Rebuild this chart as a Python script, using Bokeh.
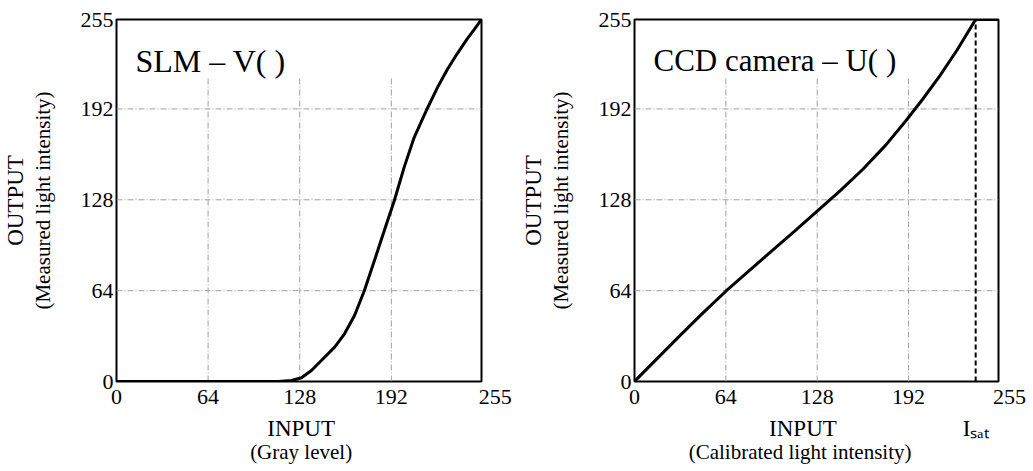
from bokeh.plotting import figure
from bokeh.models import Range1d, Label, FixedTicker, LinearAxis, Title
from bokeh.layouts import row
from bokeh.embed import file_html
from bokeh.resources import INLINE

# ---------------- data ----------------
tick_values = [0, 64, 128, 192, 255]
tick_labels = ["0", "64", "128", "192", "255"]
grid_values = [64, 128, 192]

slm_input = [0, 64, 100, 113, 122.3, 129.2, 136.2, 143.1, 152.4, 159.3, 166.3, 173.2,
             180.2, 187.1, 194.1, 201.0, 208.0, 217.2, 224.2, 231.2, 238.1, 245.0, 250.0, 255]
slm_output = [0, 0, 0, 0, 0.7, 2.6, 7.7, 14.8, 24.2, 33.6, 46.5, 64.1,
              85.2, 106.4, 127.5, 151.0, 172.0, 192.5, 207.0, 220.0, 231.0, 241.4, 248.0, 255]

ccd_input = [0, 16, 32, 48, 64, 80, 96, 112, 128, 144, 160, 176, 190, 202, 214, 226, 239, 255]
ccd_output = [0, 16.3, 32.5, 48.3, 63.6, 77.8, 91.8, 105.8, 120, 134.3, 149.5, 166.5, 183.5,
              199, 215.5, 233.5, 255, 255]

i_sat = 239

FONT = "Liberation Serif"
H = 471
TOP = 19
FRAME_H = 362
NB = "\u00a0"


def plain_axis(ticks, labels, size, standoff):
    return LinearAxis(ticker=FixedTicker(ticks=ticks),
                      major_label_overrides=dict(zip(ticks, labels)),
                      axis_line_color=None, major_tick_line_color=None,
                      minor_tick_line_color=None, major_tick_out=0, major_tick_in=0,
                      major_label_standoff=standoff, major_label_text_font=FONT,
                      major_label_text_font_size=size, major_label_text_color="black")


def make_panel(width, border_left, border_right, xs, ys, title, title_size, row_ticks,
               row_labels, sub_x, sub_tick, n_pad):
    p = figure(width=width, height=H, x_range=Range1d(0, 255), y_range=Range1d(0, 255),
               output_backend="svg", toolbar_location=None,
               min_border_left=border_left, min_border_right=border_right,
               min_border_top=TOP, min_border_bottom=H - TOP - FRAME_H)
    p.grid.visible = False
    p.background_fill_color = "white"
    p.border_fill_color = "white"
    p.outline_line_color = "black"
    p.outline_line_width = 2
    p.outline_line_alpha = 1.0
    for ax in (p.xaxis, p.yaxis):
        ax.ticker = FixedTicker(ticks=tick_values)
        ax.axis_line_color = None
        ax.major_tick_line_color = None
        ax.minor_tick_line_color = None
        ax.major_tick_out = 0
        ax.major_tick_in = 0
        ax.major_label_text_font = FONT
        ax.major_label_text_font_size = "22px"
        ax.major_label_text_color = "black"
    p.xaxis.major_label_standoff = 2
    p.yaxis.major_label_standoff = 3
    xo = {v: s for v, s in zip(tick_values, tick_labels)}
    xo[255] = NB * n_pad + "255"
    p.xaxis.major_label_overrides = xo

    # y: sub-label as the axis label, OUTPUT as a side title
    p.yaxis.axis_label = "(Measured light intensity)"
    p.yaxis.axis_label_standoff = 23
    p.yaxis.axis_label_text_font = FONT
    p.yaxis.axis_label_text_font_size = "21px"
    p.yaxis.axis_label_text_font_style = "normal"
    p.yaxis.axis_label_text_color = "black"
    p.add_layout(Title(text="OUTPUT", align="center", standoff=0,
                       text_font=FONT, text_font_size="23px", text_font_style="normal",
                       text_color="black"), "left")

    # rows below the tick labels: INPUT (and I_sat), then the sub-label
    p.add_layout(plain_axis(row_ticks, row_labels, "23px", 4), "below")
    p.add_layout(plain_axis([sub_tick], [sub_x], "21px", -4), "below")

    # grid (dash-dot)
    p.segment(x0=grid_values, y0=[0] * len(grid_values), x1=grid_values,
              y1=[214] * len(grid_values), line_color="#a0a0a0", line_width=1,
              line_dash="6 2 1 2")
    p.segment(x0=[0] * len(grid_values), y0=grid_values, x1=[255] * len(grid_values),
              y1=grid_values, line_color="#a0a0a0", line_width=1, line_dash="6 2 1 2")

    p.line(xs, ys, line_color="black", line_width=3, line_join="round")

    p.add_layout(Label(x=19, y=321, x_units="screen", y_units="screen", text=title,
                       text_font=FONT, text_font_size=title_size, text_color="black",
                       text_baseline="alphabetic", text_align="left"))
    return p


p1 = make_panel(514, 114, 33, slm_input, slm_output, "SLM \u2013 V( )", "32px",
                [129], ["INPUT"], "(Gray level)", 129, 5)
p2 = make_panel(519, 120, 35, ccd_input, ccd_output, "CCD camera \u2013 U( )", "31px",
                [118, i_sat], ["INPUT", "I\u209b\u2090\u209c"],
                "(Calibrated light intensity)", 116, 4)

p2.segment(x0=[i_sat], y0=[0], x1=[i_sat], y1=[255], line_color="black", line_width=2,
           line_dash="5 3")

layout = row(p1, p2)
open("out.html", "w").write(file_html(layout, INLINE))
